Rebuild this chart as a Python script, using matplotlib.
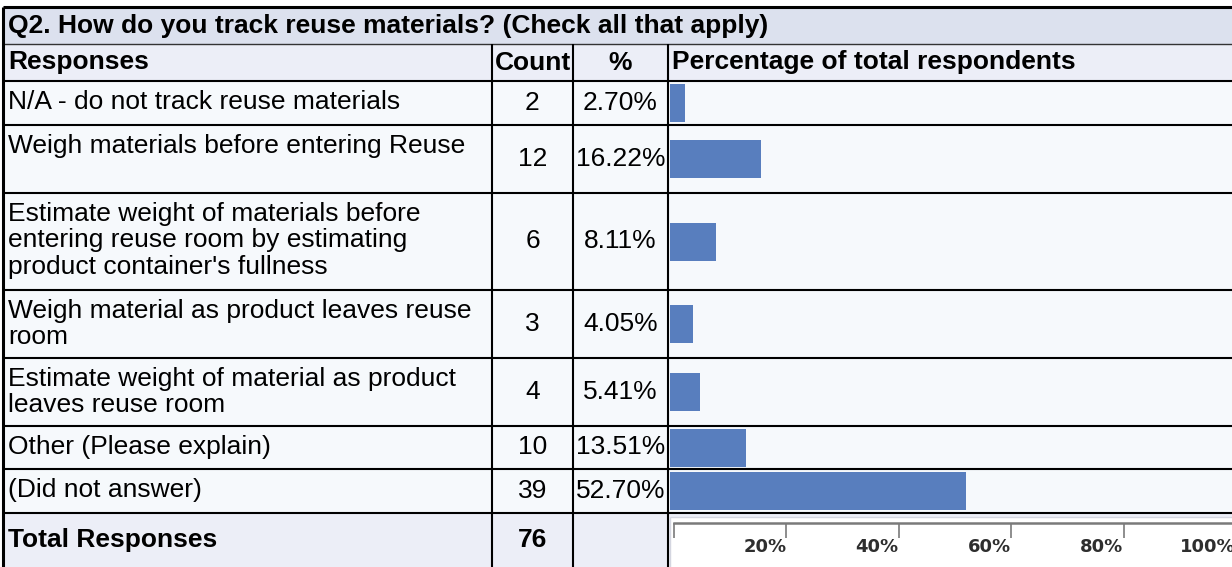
import matplotlib
matplotlib.use('Agg')
import matplotlib.pyplot as plt
from matplotlib.patches import Rectangle

plt.rcParams['font.family'] = ['Liberation Sans', 'DejaVu Sans']

# Survey data
title = 'Q2. How do you track reuse materials? (Check all that apply)'
headers = ['Responses', 'Count', '%', 'Percentage of total respondents']
responses = ['N/A - do not track reuse materials',
             'Weigh materials before entering Reuse',
             'Estimate weight of materials before\nentering reuse room by estimating\nproduct container\'s fullness',
             'Weigh material as product leaves reuse\nroom',
             'Estimate weight of material as product\nleaves reuse room',
             'Other (Please explain)',
             '(Did not answer)']
counts = [2, 12, 6, 3, 4, 10, 39]
percents = [2.70, 16.22, 8.11, 4.05, 5.41, 13.51, 52.70]
total_label = 'Total Responses'
total_count = 76
scale_ticks = [0, 20, 40, 60, 80, 100]

# Layout in pixels
W, H = 1232, 567
x_left, x_count, x_pct, x_bar = 3, 492, 573, 668
y_top, y_head, y_rows = 7, 44, 81
row_heights = [44, 68, 97, 68, 68, 43, 44]
fs = 19
line_h = 26.5

title_bg = '#dce1ee'
head_bg = '#eceef7'
row_bg = '#f6f9fc'
bar_color = '#587ebe'

fig = plt.figure(figsize=(W / 100, H / 100), dpi=100)
ax = fig.add_axes([0, 0, 1, 1])
ax.set_xlim(0, W)
ax.set_ylim(H, 0)
ax.axis('off')

row_tops = [y_rows]
for h in row_heights:
    row_tops.append(row_tops[-1] + h)
y_total = row_tops[-1]

# backgrounds
ax.add_patch(Rectangle((x_left, y_top), W, y_head - y_top, color=title_bg, lw=0))
ax.add_patch(Rectangle((x_left, y_head), W, y_rows - y_head, color=head_bg, lw=0))
ax.add_patch(Rectangle((x_left, y_rows), W, y_total - y_rows, color=row_bg, lw=0))
ax.add_patch(Rectangle((x_left, y_total), W, H - y_total, color=head_bg, lw=0))
ax.add_patch(Rectangle((x_bar + 2, y_total + 4), W, H - y_total, facecolor='white',
                       edgecolor='#d4d6e0', lw=1))

# grid lines
ax.hlines(y_top, x_left, W, color='black', lw=2.2)
ax.hlines(y_head, x_left, W, color='#333333', lw=1)
for y in row_tops:
    ax.hlines(y, x_left, W, color='black', lw=1.5)
ax.vlines(x_left, y_top, H, color='black', lw=2.2)
for x in [x_count, x_pct, x_bar]:
    ax.vlines(x, y_head, H, color='black', lw=1.5)

# title and headers
ax.text(x_left + 5, (y_top + y_head) / 2, title, fontsize=fs, fontweight='bold',
        va='center', ha='left')
yh = (y_head + y_rows) / 2
ax.text(x_left + 5, yh, headers[0], fontsize=fs, fontweight='bold', va='center')
ax.text((x_count + x_pct) / 2, yh, headers[1], fontsize=fs, fontweight='bold',
        va='center', ha='center')
ax.text((x_pct + x_bar) / 2, yh, headers[2], fontsize=fs, fontweight='bold',
        va='center', ha='center')
ax.text(x_bar + 4, yh, headers[3], fontsize=fs, fontweight='bold', va='center')

# rows
centers = []
for i, (resp, c, p) in enumerate(zip(responses, counts, percents)):
    top, bot = row_tops[i], row_tops[i + 1]
    yc = (top + bot) / 2
    centers.append(yc)
    for j, line in enumerate(resp.split('\n')):
        ax.text(x_left + 5, top + 21 + j * line_h, line, fontsize=fs, va='center')
    ax.text((x_count + x_pct) / 2, yc, str(c), fontsize=fs, va='center', ha='center')
    ax.text((x_pct + x_bar) / 2, yc, '%.2f%%' % p, fontsize=fs, va='center', ha='center')

yt = (y_total + H) / 2
ax.text(x_left + 5, yt, total_label, fontsize=fs, fontweight='bold', va='center')
ax.text((x_count + x_pct) / 2, yt, str(total_count), fontsize=fs, fontweight='bold',
        va='center', ha='center')

# bar chart axes
bx0, bx1 = 670, W
bax = fig.add_axes([bx0 / W, 1 - y_total / H, (bx1 - bx0) / W, (y_total - y_rows) / H])
bax.set_xlim(0, 100)
bax.set_ylim(y_total, y_rows)
bax.barh(centers, percents, height=38, color=bar_color)
bax.axis('off')

# scale axes
px_per_pct = (bx1 - bx0) / 100
sx0, sy = 674, 523
sw = 566
sax = fig.add_axes([sx0 / W, 1 - sy / H, sw / W, 10 / H])
sax.set_xlim(0, sw / px_per_pct)
sax.patch.set_visible(False)
for s in ['top', 'left', 'right']:
    sax.spines[s].set_visible(False)
sax.spines['bottom'].set_color('#7a7a7a')
sax.spines['bottom'].set_linewidth(1.8)
sax.set_yticks([])
sax.set_xticks(scale_ticks)
sax.set_xticklabels(['' if t == 0 else '%d%%' % t for t in scale_ticks],
                    fontsize=13, fontweight='bold', color='#2e2e2e',
                    family='DejaVu Sans')
sax.tick_params(axis='x', direction='out', length=11, width=1.2, color='#7a7a7a', pad=0)
for lab in sax.get_xticklabels():
    lab.set_ha('right')

fig.savefig('out.png', dpi=100)
